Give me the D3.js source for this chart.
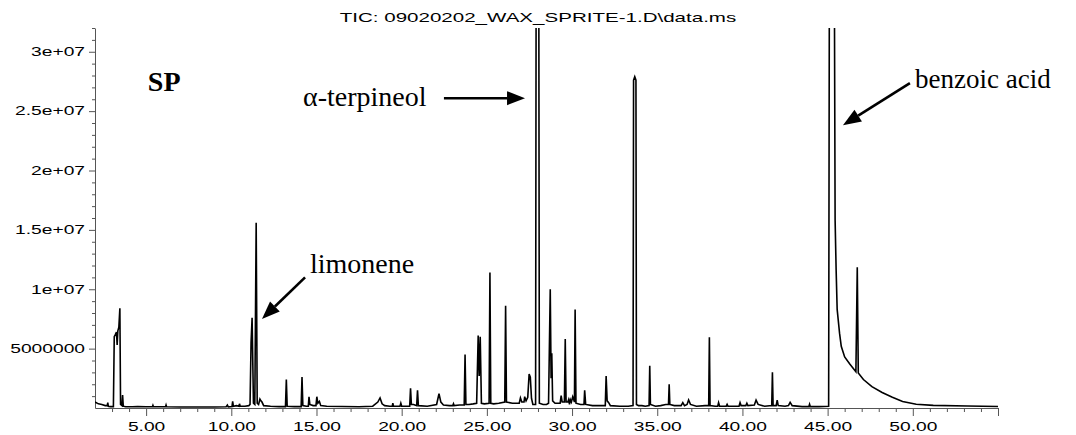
<!DOCTYPE html>
<html><head><meta charset="utf-8">
<script src="https://cdn.jsdelivr.net/npm/d3@7"></script>
<style>body{margin:0;background:#fff}svg{display:block}</style>
</head><body><svg id="c" width="1076" height="435"></svg>
<script>
// ---------- data ----------
const titleText = "TIC: 09020202_WAX_SPRITE-1.D\\data.ms";
const xMajorTicks = [5,10,15,20,25,30,35,40,45,50,55];
const xTickLabels = ["5.00","10.00","15.00","20.00","25.00","30.00","35.00","40.00","45.00","50.00"];
const xMinorTicks = [3,4,6,7,8,9,11,12,13,14,16,17,18,19,21,22,23,24,26,27,28,29,31,32,33,34,36,37,38,39,41,42,43,44,46,47,48,49,51,52,53,54];
const yMajorTicks = [5e6,1e7,1.5e7,2e7,2.5e7,3e7];
const yTickLabels = ["5000000","1e+07","1.5e+07","2e+07","2.5e+07","3e+07"];
const yMinorTicks = [1e6,2e6,3e6,4e6,6e6,7e6,8e6,9e6,11e6,12e6,13e6,14e6,16e6,17e6,18e6,19e6,21e6,22e6,23e6,24e6,26e6,27e6,28e6,29e6,31e6,32e6];

// retention time (min) and abundance (millions of counts)
const retentionTime = [
 2.0,2.2,2.4,2.6,2.72,2.75,2.78,2.9,3.08,3.13,3.2,3.26,3.3,3.34,3.4,3.46,3.5,3.58,3.62,3.66,3.8,4.2,4.5,5.0,
 5.37,5.4,5.43,6.14,6.17,6.2,7.0,8.0,9.0,9.7,9.77,9.82,10.04,10.08,10.12,10.3,10.45,10.48,10.52,10.8,
 11.03,11.1,11.16,11.22,11.3,11.38,11.46,11.52,11.6,11.68,11.74,11.8,11.9,12.3,12.8,
 13.18,13.23,13.28,13.7,14.1,14.15,14.2,14.4,14.52,14.56,14.61,14.8,14.97,15.02,15.08,15.17,15.25,15.6,
 16.5,17.5,18.3,18.6,18.73,18.85,19.0,19.3,19.45,19.48,19.52,19.9,19.95,20.0,20.47,20.52,20.57,20.7,
 20.88,20.93,20.98,21.5,22.05,22.19,22.3,22.45,22.8,23.0,23.04,23.08,23.4,23.67,23.72,23.77,23.95,24.2,
 24.4,24.49,24.55,24.61,24.68,24.85,25.13,25.18,25.23,25.4,25.7,26.05,26.1,26.15,26.5,26.9,26.97,27.05,
 27.18,27.22,27.3,27.4,27.48,27.55,27.62,27.7,27.86,27.89,28.0,28.05,28.08,28.3,28.5,
 28.62,28.72,28.77,28.81,28.86,29.0,29.3,29.36,29.42,29.55,29.6,29.65,29.75,29.8,29.85,29.9,29.96,30.04,30.1,
 30.14,30.18,30.23,30.5,30.7,30.74,30.8,31.2,31.6,31.95,32.0,32.06,32.15,32.25,32.8,33.3,
 33.58,33.61,33.68,33.75,33.78,33.9,34.1,34.3,34.52,34.56,34.6,34.9,35.2,35.5,35.66,35.7,35.74,36.0,
 36.4,36.5,36.6,36.75,36.84,36.95,37.3,37.8,38.02,38.06,38.1,38.4,38.55,38.6,38.66,39.05,39.1,39.15,39.5,
 39.8,39.86,39.92,40.2,40.26,40.32,40.7,40.8,40.92,41.3,41.72,41.76,41.8,41.98,42.04,42.1,42.5,42.7,42.8,42.92,
 43.5,43.9,43.94,43.98,44.5,45.06,45.1,45.25,45.4,45.44,45.5,45.56,45.7,45.8,46.0,46.3,46.66,46.74,46.8,
 47.1,47.6,48.2,48.8,49.4,50.2,51.2,53.2,55.0
];
const abundanceM = [
 0.5,0.35,0.3,0.2,0.2,0.45,0.15,0.12,0.12,6.0,6.2,6.4,5.3,6.5,6.8,8.4,0.3,0.2,1.1,0.15,0.1,0.1,0.12,0.1,
 0.1,0.22,0.1,0.1,0.25,0.1,0.08,0.08,0.08,0.1,0.25,0.1,0.12,0.55,0.15,0.2,0.15,0.35,0.15,0.15,
 0.2,0.3,5.5,7.6,0.4,0.3,15.6,0.4,0.3,0.75,0.6,0.5,0.2,0.15,0.12,
 0.12,2.4,0.15,0.12,0.12,2.6,0.2,0.15,0.15,0.95,0.3,0.2,0.2,0.95,0.4,0.55,0.2,0.15,
 0.12,0.1,0.15,0.5,0.85,0.35,0.2,0.15,0.15,0.4,0.15,0.15,0.4,0.15,0.15,1.65,0.3,0.3,
 0.2,1.5,0.2,0.15,0.3,1.2,0.5,0.25,0.2,0.2,0.35,0.2,0.25,0.25,4.5,0.3,0.3,0.35,
 0.4,6.1,2.7,6.0,0.4,0.35,0.4,11.4,0.4,0.35,0.4,0.5,8.6,0.5,0.4,0.4,0.85,0.5,
 0.5,0.95,0.6,0.9,2.85,2.6,0.8,0.3,0.3,34,60,34,0.4,0.3,0.3,
 0.4,10.0,2.5,4.6,0.6,0.4,0.4,1.05,0.5,0.5,5.8,0.5,0.5,0.7,0.3,0.7,0.5,0.95,0.7,
 0.5,8.3,0.4,0.3,0.3,1.5,0.3,0.2,0.2,0.2,2.7,0.6,0.45,0.2,0.15,0.15,
 0.2,27.6,27.9,27.6,0.3,0.2,0.2,0.15,0.2,3.55,0.3,0.15,0.2,0.3,0.3,2.0,0.3,0.2,
 0.2,0.45,0.2,0.3,0.67,0.3,0.15,0.2,0.2,5.95,0.2,0.15,0.15,0.45,0.15,0.15,0.3,0.15,0.15,
 0.15,0.45,0.2,0.2,0.4,0.2,0.25,0.67,0.3,0.15,0.2,3.0,0.2,0.2,0.67,0.2,0.15,0.2,0.48,0.2,
 0.12,0.12,0.31,0.12,0.12,0.15,34,80,34,15.8,11.6,8.3,6.3,5.2,4.3,3.7,3.05,11.85,2.95,
 2.4,1.8,1.3,0.9,0.55,0.32,0.22,0.17,0.12
];

// annotations in data coordinates (min, counts)
const labelTexts = ["SP","α-terpineol","limonene","benzoic acid"];
const labelPos = [[5.1,26.7e6],[14.21,25.4e6],[14.62,11.36e6],[50.13,26.94e6]];
const labelSizes = [28,28,28,27];
const arrowFrom = [[22.48,26.09e6],[14.33,11.0e6],[49.83,27.36e6]];
const arrowTo   = [[27.24,26.09e6],[11.8,7.49e6],[45.9,23.82e6]];

// ---------- drawing ----------
const svg = d3.select("#c");
svg.append("rect").attr("width",1076).attr("height",435).attr("fill","#fff");
const L=95,R=998,T=28,B=408;
const x = d3.scaleLinear().domain([2,55]).range([L,R]);
const y = d3.scaleLinear().domain([0,3.2e7]).range([B,T]);
const stretch = (sel,f)=>sel.each(function(){const w=this.getComputedTextLength();this.setAttribute("textLength",w*f);this.setAttribute("lengthAdjust","spacingAndGlyphs");});

// title
svg.append("text").attr("x",538).attr("y",22).attr("text-anchor","middle")
  .attr("font-family","Liberation Sans, Arial, sans-serif").attr("font-size",13).attr("fill","#000")
  .text(titleText).call(stretch,1.58);

// axes
const axisColor="#555";
const gx = svg.append("g").attr("transform",`translate(0,${B})`);
gx.call(d3.axisBottom(x).tickValues(xMinorTicks).tickSize(4).tickFormat(""));
gx.call(g=>g.select(".domain").remove());
const gx2 = svg.append("g").attr("transform",`translate(0,${B})`);
gx2.call(d3.axisBottom(x).tickValues(xMajorTicks).tickSize(8).tickSizeOuter(0).tickPadding(4)
  .tickFormat((d,i)=>xTickLabels[i]||""));
const gy = svg.append("g").attr("transform",`translate(${L},0)`);
gy.call(d3.axisLeft(y).tickValues(yMinorTicks).tickSize(3).tickFormat(""));
gy.call(g=>g.select(".domain").remove());
const gy2 = svg.append("g").attr("transform",`translate(${L},0)`);
gy2.call(d3.axisLeft(y).tickValues(yMajorTicks).tickSize(6).tickSizeOuter(0).tickPadding(4)
  .tickFormat((d,i)=>yTickLabels[i]));
svg.selectAll(".tick line, .domain").attr("stroke",axisColor);
[gx2,gy2].forEach(g=>g.selectAll("text").attr("font-family","Liberation Sans, Arial, sans-serif")
  .attr("font-size",12).attr("fill","#000"));
gx2.selectAll("text").attr("dy","0.95em").call(stretch,1.6);
gy2.selectAll("text").call(stretch,1.6);

// chromatogram
svg.append("clipPath").attr("id","plot").append("rect").attr("x",L).attr("y",T).attr("width",R-L+1).attr("height",B-T+2);
const pts = retentionTime.map((t,i)=>[t,abundanceM[i]*1e6]);
svg.append("path").datum(pts).attr("clip-path","url(#plot)")
  .attr("fill","none").attr("stroke","#000").attr("stroke-width",1.6).attr("stroke-linejoin","miter")
  .attr("d",d3.line().x(d=>x(d[0])).y(d=>y(d[1])));

// annotations
labelTexts.forEach((s,i)=>{
  svg.append("text").attr("x",x(labelPos[i][0])).attr("y",y(labelPos[i][1]))
    .attr("font-family","Liberation Serif, Times New Roman, serif").attr("font-size",labelSizes[i])
    .attr("font-weight",i===0?"bold":"normal").attr("fill","#000").text(s);
});
arrowFrom.forEach((f,i)=>{
  const x1=x(f[0]),y1=y(f[1]),x2=x(arrowTo[i][0]),y2=y(arrowTo[i][1]);
  const a=Math.atan2(y2-y1,x2-x1),hl=18,hw=7;
  const bx=x2-hl*Math.cos(a),by=y2-hl*Math.sin(a);
  svg.append("line").attr("x1",x1).attr("y1",y1).attr("x2",bx).attr("y2",by)
    .attr("stroke","#000").attr("stroke-width",2.6);
  svg.append("path").attr("fill","#000").attr("d",
    `M${x2},${y2}L${bx+hw*Math.sin(a)},${by-hw*Math.cos(a)}L${bx-hw*Math.sin(a)},${by+hw*Math.cos(a)}Z`);
});
</script></body></html>
